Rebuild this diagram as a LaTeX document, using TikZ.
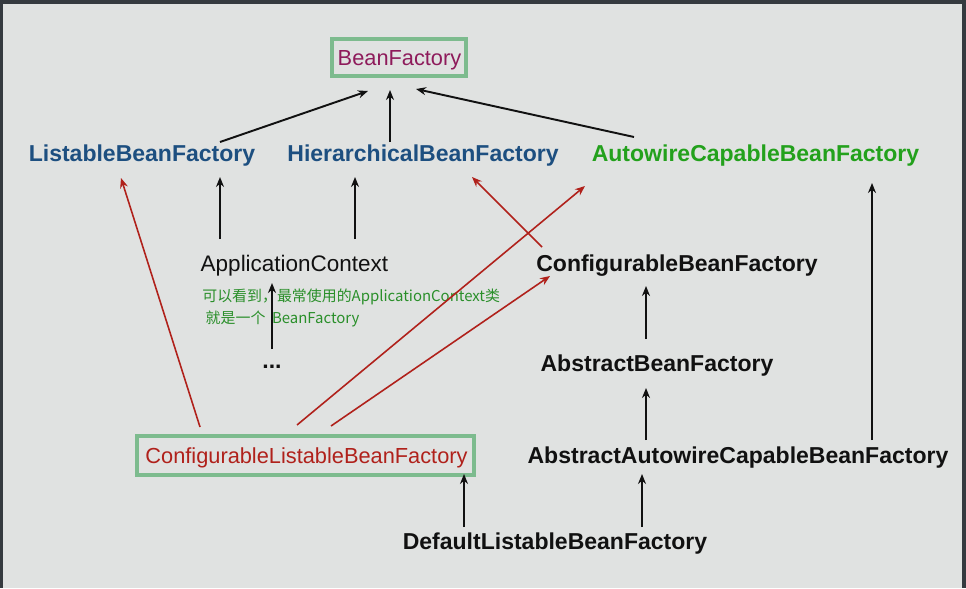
\documentclass[tikz,border=0pt]{standalone}
\usepackage{fontspec}
\setmainfont{Liberation Sans}
\newfontfamily\cjkfont{Noto Sans CJK SC}
\usetikzlibrary{arrows.meta}
\definecolor{bgc}{HTML}{E0E2E1}
\definecolor{framec}{HTML}{353A3F}
\definecolor{boxc}{HTML}{7DBB8E}
\definecolor{beanc}{HTML}{8E1B5B}
\definecolor{bluec}{HTML}{1D4F80}
\definecolor{greenc}{HTML}{23A11C}
\definecolor{redc}{HTML}{B0211B}
\definecolor{notec}{HTML}{2A8F2A}
\definecolor{blackc}{HTML}{111111}
\tikzset{
  lbl/.style={inner sep=0pt, font=\fontsize{12.8}{15}\selectfont},
  boxlbl/.style={inner sep=0pt, font=\fontsize{12.4}{15}\selectfont},
  blbl/.style={lbl, font=\fontsize{13.1}{15}\selectfont\bfseries},
  greenbox/.style={draw=boxc, line width=2.3pt, inner sep=0pt},
  blk/.style={draw=blackc, line width=1.1pt, -{Stealth[length=0.2cm,width=0.16cm]}},
  redarr/.style={draw=redc, line width=0.9pt, -{Stealth[length=0.2cm,width=0.16cm]}},
}
\begin{document}
\begin{tikzpicture}[x=0.02cm,y=-0.02cm]
\useasboundingbox (0,0) rectangle (966,588);
\fill[framec] (0,0) rectangle (966,588);
\fill[bgc] (3,4) rectangle (962,588);

% nodes
\node[greenbox, minimum width=2.68cm, minimum height=0.74cm] (bf) at (399,57.5) {};
\node[boxlbl, text=beanc] (bft) at (399.5,60) {BeanFactory};
\node[blbl, text=bluec] (lbf) at (142,156) {ListableBeanFactory};
\node[blbl, text=bluec] (hbf) at (423,156) {HierarchicalBeanFactory};
\node[blbl, text=greenc] (acbf) at (755.5,156) {AutowireCapableBeanFactory};
\node[lbl, text=blackc] (ac) at (294.5,266) {ApplicationContext};
\node[blbl, text=blackc] (cbf) at (677,266) {ConfigurableBeanFactory};
\node[blbl, text=blackc] (abf) at (657,366) {AbstractBeanFactory};
\node[blbl, text=blackc] (dots) at (272,367) {...};
\node[greenbox, minimum width=6.74cm, minimum height=0.78cm] (clbf) at (305.5,455.5) {};
\node[boxlbl, text=redc] (clbft) at (306.5,458) {ConfigurableListableBeanFactory};
\node[blbl, text=blackc] (aacbf) at (738,458) {AbstractAutowireCapableBeanFactory};
\node[blbl, text=blackc] (dlbf) at (555,544) {DefaultListableBeanFactory};
\node[anchor=north west, inner sep=0pt, align=left, text=notec,
      font=\cjkfont\fontsize{8.5}{12.5}\selectfont] (note) at (202,289)
  {可以看到，最常使用的ApplicationContext类\\\ 就是一个\ \ BeanFactory};

% connector end points
\coordinate (t1) at (368,91);  \coordinate (s1) at (220,142);
\coordinate (t2) at (390,90);  \coordinate (s2) at (390,142);
\coordinate (t3) at (416,89);  \coordinate (s3) at (634,137);
\coordinate (t4) at (220,177); \coordinate (s4) at (220,239);
\coordinate (t5) at (355,177); \coordinate (s5) at (355,239);
\coordinate (t6) at (272,283); \coordinate (s6) at (272,349);
\coordinate (t7) at (646,286); \coordinate (s7) at (646,339);
\coordinate (t8) at (646,388); \coordinate (s8) at (646,440);
\coordinate (t9) at (872,183); \coordinate (s9) at (872,440);
\coordinate (t10) at (464,474); \coordinate (s10) at (464,527);
\coordinate (t11) at (642,474); \coordinate (s11) at (642,527);
\coordinate (t12) at (121,178); \coordinate (s12) at (200,427);
\coordinate (t13) at (585,186); \coordinate (s13) at (297,425);
\coordinate (t14) at (550,276); \coordinate (s14) at (331,426);
\coordinate (t15) at (472,177); \coordinate (s15) at (542,247);

% black arrows
\draw[blk] (s1) -- (t1);
\draw[blk] (s2) -- (t2);
\draw[blk] (s3) -- (t3);
\draw[blk] (s4) -- (t4);
\draw[blk] (s5) -- (t5);
\draw[blk] (s6) -- (t6);
\draw[blk] (s7) -- (t7);
\draw[blk] (s8) -- (t8);
\draw[blk] (s9) -- (t9);
\draw[blk] (s10) -- (t10);
\draw[blk] (s11) -- (t11);
% red arrows
\draw[redarr] (s12) -- (t12);
\draw[redarr] (s13) -- (t13);
\draw[redarr] (s14) -- (t14);
\draw[redarr] (s15) -- (t15);
\end{tikzpicture}
\end{document}
